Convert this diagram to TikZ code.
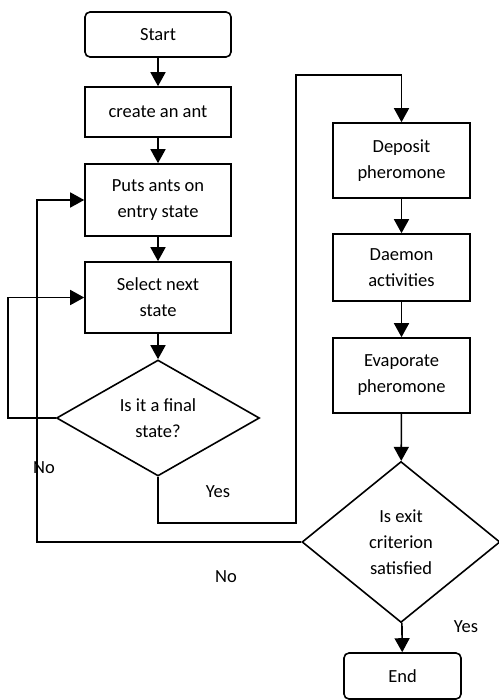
\documentclass[tikz,border=0pt]{standalone}
\usepackage{fontspec}
\setmainfont{Carlito}
\usetikzlibrary{shapes.geometric,arrows.meta}
\begin{document}
\begin{tikzpicture}[x=1pt,y=-1pt,
  every node/.style={font=\fontsize{18.5}{26}\selectfont},
  box/.style={draw,line width=1.6pt,align=center,inner sep=0pt},
  rbox/.style={box,rounded corners=5pt},
  dia/.style={draw,line width=1.6pt,diamond,align=center,inner sep=0pt},
  arr/.style={line width=1.6pt,-{Triangle[width=15pt,length=14pt]}},
  ln/.style={line width=1.6pt}]
\useasboundingbox (0,0) rectangle (498,700);
\node[rbox,minimum width=146pt,minimum height=45pt] (start) at (158,34.5) {Start};
\node[box,minimum width=146pt,minimum height=50pt] (create) at (158,112) {create an ant};
\node[box,minimum width=146pt,minimum height=72pt] (puts) at (158,200) {Puts ants on\\entry state};
\node[box,minimum width=146pt,minimum height=71pt] (select) at (158,297.5) {Select next\\state};
\node[dia,aspect=1.75,minimum width=203pt,minimum height=116pt] (d1) at (158,418) {Is it a final\\state?};
\node[box,minimum width=137pt,minimum height=75pt] (deposit) at (401.5,160.5) {Deposit\\pheromone};
\node[box,minimum width=137pt,minimum height=67pt] (daemon) at (401.5,267.5) {Daemon\\activities};
\node[box,minimum width=137pt,minimum height=75pt] (evap) at (401.5,375.5) {Evaporate\\pheromone};
\node[dia,aspect=1.23,minimum width=198pt,minimum height=161pt] (d2) at (401,542) {Is exit\\criterion\\satisfied};
\node[rbox,minimum width=117pt,minimum height=46pt] (end) at (402.5,676) {End};
\node (no1) at (44,468) {No};
\node (yes1) at (218,492) {Yes};
\node (no2) at (226,577) {No};
\node (yes2) at (466,627) {Yes};
\coordinate (la) at (8,418);
\coordinate (ya) at (296,523);
\coordinate (yb) at (296,75);
\coordinate (na) at (37,542);
\draw[arr] (start) -- (create);
\draw[arr] (create) -- (puts);
\draw[arr] (puts) -- (select);
\draw[arr] (select) -- (d1);
\draw[arr] (d1.west) -- (la) |- (select.west);
\draw[arr] (d1.south) |- (ya) -- (yb) -| (deposit.north);
\draw[arr] (deposit) -- (daemon);
\draw[arr] (daemon) -- (evap);
\draw[arr] (evap) -- (d2);
\draw[arr] (d2) -- (end);
\draw[arr] (d2.west) -- (na) |- (puts.west);
\end{tikzpicture}
\end{document}
